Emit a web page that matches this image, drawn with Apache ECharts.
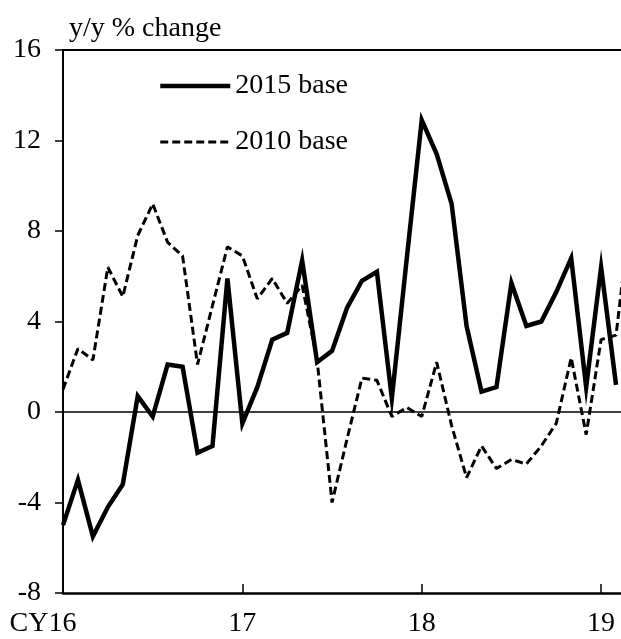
<!DOCTYPE html>
<html lang="en">
<head>
    <meta charset="UTF-8">
    <title>y/y % change</title>
    <script src="https://cdn.jsdelivr.net/npm/echarts@6/dist/echarts.min.js"></script>
    <style>
        html,body{margin:0;padding:0;background:#fff;overflow:hidden}
        #chart{width:631px;height:639px}
    </style>
</head>
<body>
    <div id="chart"></div>
    <script>
        var months=['2016-01','2016-02','2016-03','2016-04','2016-05','2016-06','2016-07','2016-08','2016-09','2016-10','2016-11','2016-12',
            '2017-01','2017-02','2017-03','2017-04','2017-05','2017-06','2017-07','2017-08','2017-09','2017-10','2017-11','2017-12',
            '2018-01','2018-02','2018-03','2018-04','2018-05','2018-06','2018-07','2018-08','2018-09','2018-10','2018-11','2018-12',
            '2019-01','2019-02','2019-03'];
        var xTickLabels=['CY16','17','18','19'];
        var yTicks=[-8,-4,0,4,8,12,16];
        var base2015=[-5.0,-3.0,-5.5,-4.2,-3.2,0.7,-0.2,2.1,2.0,-1.8,-1.5,5.9,
            -0.5,1.1,3.2,3.5,6.7,2.2,2.7,4.6,5.8,6.2,0.6,6.8,
            12.9,11.4,9.2,3.8,0.9,1.1,5.7,3.8,4.0,5.3,6.8,1.1,
            6.4,1.2];
        var base2010=[1.0,2.8,2.3,6.4,5.1,7.8,9.2,7.5,6.9,2.1,4.7,7.3,
            6.9,5.0,5.9,4.8,5.6,2.3,-4.0,-1.2,1.5,1.4,-0.2,0.2,
            -0.2,2.2,-0.6,-2.9,-1.5,-2.5,-2.1,-2.3,-1.5,-0.5,2.4,-1.0,
            3.2,3.4,9.0];

        var font='"Liberation Serif","Times New Roman",serif';
        // the plot runs past the right edge of the window, like the cropped original
        var mychart=echarts.init(document.getElementById('chart'));
        var option={
            animation:false,
            title:{
                text:'y/y % change',
                left:64,
                top:10,
                textStyle:{fontFamily:font,fontSize:28,fontWeight:'normal',color:'#000'}
            },
            legend:{
                orient:'vertical',
                left:153,
                top:67,
                itemWidth:70,
                itemHeight:28,
                itemGap:28,
                itemStyle:{opacity:0},
                textStyle:{fontFamily:font,fontSize:28,color:'#000',lineHeight:28},
                data:[
                    {name:'2015 base',lineStyle:{width:4.5}},
                    {name:'2010 base',lineStyle:{width:3}}
                ]
            },
            grid:{left:63,top:50,right:0,bottom:46},
            xAxis:[
                {
                    type:'category',
                    boundaryGap:false,
                    data:months,
                    axisLine:{onZero:false,lineStyle:{color:'#000',width:2.5}},
                    axisTick:{
                        inside:true,
                        length:9,
                        interval:function(i){return i%12===0;},
                        lineStyle:{color:'#000',width:1.5}
                    },
                    axisLabel:{
                        margin:17,
                        color:'#000',
                        fontFamily:font,
                        fontSize:28,
                        interval:function(i){return i%12===0;},
                        formatter:function(v,i){
                            var lbl=xTickLabels[i/12];
                            if(lbl.indexOf('CY')===0){
                                return '{cy|CY}{n|'+lbl.slice(2)+'}{pad|\u00a0}';
                            }
                            return lbl;
                        },
                        rich:{
                            cy:{fontFamily:font,fontSize:28,color:'#000'},
                            n:{fontFamily:font,fontSize:28,color:'#000'},
                            pad:{fontFamily:font,fontSize:28,width:40}
                        }
                    },
                    splitLine:{show:false}
                },
                {
                    type:'category',
                    position:'top',
                    boundaryGap:false,
                    data:months,
                    axisLine:{onZero:false,lineStyle:{color:'#000',width:2}},
                    axisTick:{show:false},
                    axisLabel:{show:false},
                    splitLine:{show:false}
                }
            ],
            yAxis:{
                type:'value',
                min:yTicks[0],
                max:yTicks[yTicks.length-1],
                interval:4,
                axisLine:{show:true,onZero:false,lineStyle:{color:'#000',width:2}},
                axisTick:{show:true,length:8,lineStyle:{color:'#000',width:1.5}},
                axisLabel:{margin:22,color:'#000',fontFamily:font,fontSize:28},
                splitLine:{show:false}
            },
            series:[
                {
                    name:'2015 base',
                    type:'line',
                    data:base2015,
                    symbol:'none',
                    color:'#000',
                    lineStyle:{color:'#000',width:4.5,join:'miter'},
                    markLine:{
                        silent:true,
                        symbol:'none',
                        label:{show:false},
                        lineStyle:{color:'#000',width:1.5,type:'solid'},
                        data:[{yAxis:0}]
                    },
                    z:3
                },
                {
                    name:'2010 base',
                    type:'line',
                    data:base2010,
                    symbol:'none',
                    color:'#000',
                    lineStyle:{color:'#000',width:3,type:[8,4]},
                    z:2
                }
            ]
        };
        mychart.setOption(option);
    </script>
</body>
</html>
